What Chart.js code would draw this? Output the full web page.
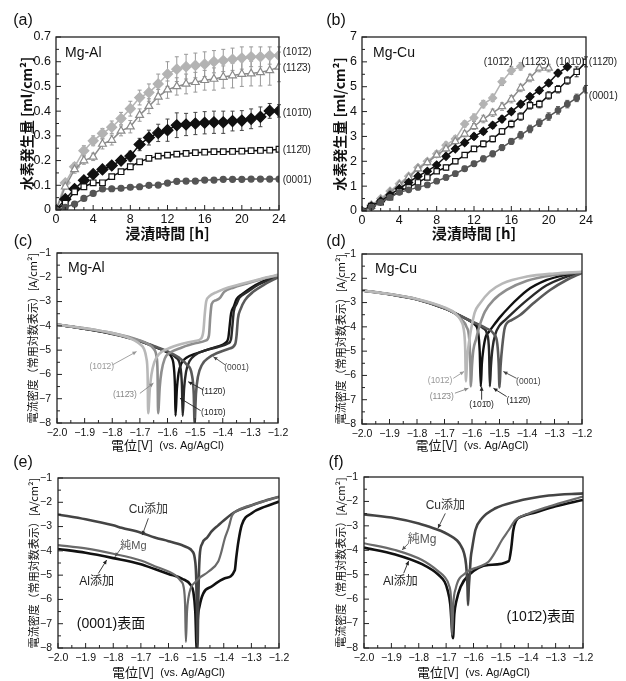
<!DOCTYPE html>
<html>
<head>
<meta charset="utf-8">
<script src="https://cdn.jsdelivr.net/npm/chart.js@4.4.0/dist/chart.umd.min.js"></script>
<style>
body { margin: 0; background: #fff; }
#wrap { position: relative; width: 626px; height: 681px; overflow: hidden; }
#wrap canvas { position: absolute; }
</style>
</head>
<body>
<div id="wrap">
  <canvas id="ca" width="330" height="246" style="left:0;top:0"></canvas>
  <canvas id="cb" width="313" height="246" style="left:313px;top:0"></canvas>
  <canvas id="cc" width="313" height="230" style="left:0;top:225px"></canvas>
  <canvas id="cd" width="313" height="230" style="left:313px;top:225px"></canvas>
  <canvas id="ce" width="313" height="231" style="left:0;top:450px"></canvas>
  <canvas id="cf" width="313" height="231" style="left:313px;top:450px"></canvas>
</div>
<script>
// 浸漬時間 [h]
var hours = [0,1,2,3,4,5,6,7,8,9,10,11,12,13,14,15,16,17,18,19,20,21,22,23,24];

// (a) Mg-Al 水素発生量 [ml/cm2]
var al1012 = [0,0.11,0.175,0.24,0.28,0.31,0.335,0.37,0.41,0.455,0.475,0.51,0.55,0.57,0.58,0.585,0.59,0.6,0.605,0.61,0.615,0.62,0.62,0.625,0.625];
var al1123 = [0,0.094,0.164,0.2,0.215,0.267,0.283,0.32,0.337,0.384,0.42,0.458,0.487,0.5,0.51,0.517,0.525,0.53,0.538,0.544,0.55,0.552,0.557,0.565,0.579];
var al1010 = [0,0.044,0.085,0.12,0.145,0.164,0.18,0.2,0.218,0.265,0.293,0.312,0.323,0.343,0.346,0.35,0.353,0.355,0.355,0.36,0.362,0.369,0.377,0.401,0.401];
var al1120 = [0,0.027,0.074,0.094,0.11,0.11,0.135,0.155,0.175,0.195,0.209,0.218,0.222,0.226,0.229,0.232,0.234,0.236,0.236,0.237,0.238,0.24,0.241,0.242,0.246];
var al0001 = [0,0.011,0.024,0.047,0.067,0.085,0.086,0.088,0.092,0.094,0.1,0.101,0.109,0.116,0.117,0.117,0.121,0.121,0.124,0.124,0.124,0.125,0.125,0.125,0.125];
var alErr1012 = [0,0.01,0.015,0.02,0.02,0.02,0.025,0.025,0.03,0.03,0.035,0.04,0.05,0.05,0.05,0.05,0.05,0.045,0.045,0.045,0.045,0.04,0.04,0.035,0.035];
var alErr1123 = [0,0.01,0.015,0.015,0.015,0.02,0.02,0.02,0.025,0.025,0.03,0.03,0.035,0.035,0.04,0.04,0.04,0.045,0.045,0.05,0.05,0.05,0.055,0.06,0.06];
var alErr1010 = [0,0.01,0.01,0.01,0.01,0.01,0.015,0.015,0.02,0.025,0.03,0.035,0.045,0.05,0.045,0.045,0.045,0.045,0.045,0.04,0.04,0.04,0.04,0.03,0.025];

// (b) Mg-Cu 水素発生量 [ml/cm2]
var cu1012 = [0,0.25,0.5,0.8,1.1,1.4,1.75,2.0,2.3,2.65,2.9,3.5,3.75,4.3,4.55,5.2,5.65,5.82];
var cu1123 = [0,0.2,0.45,0.75,1.05,1.35,1.7,1.95,2.25,2.5,2.8,3.1,3.4,3.7,3.95,4.2,4.5,4.95,5.35,5.75,5.75];
var cu1010 = [0,0.2,0.4,0.65,0.9,1.15,1.4,1.6,1.85,2.2,2.5,2.75,3.0,3.2,3.45,3.7,4.0,4.3,4.6,4.85,5.15,5.55,5.8];
var cu1120 = [0,0.2,0.35,0.55,0.8,0.95,1.15,1.35,1.6,1.75,2.0,2.25,2.5,2.7,2.9,3.2,3.5,3.8,4.25,4.3,4.65,4.9,5.25,5.6,6.0];
var cu0001 = [0,0.15,0.35,0.55,0.75,0.85,0.95,1.05,1.2,1.35,1.5,1.7,1.9,2.1,2.3,2.55,2.8,3.05,3.3,3.55,3.8,4.05,4.3,4.55,4.9];
var cuErr1012 = [0,0.05,0.05,0.05,0.08,0.08,0.1,0.1,0.12,0.12,0.12,0.12,0.15,0.15,0.15,0.15,0.15,0.15];
var cuErr1123 = [0,0.05,0.05,0.05,0.08,0.08,0.1,0.1,0.1,0.12,0.12,0.12,0.12,0.15,0.15,0.15,0.15,0.15,0.15,0.15,0.15];
var cuErr1010 = [0,0.05,0.05,0.05,0.05,0.08,0.08,0.08,0.1,0.1,0.1,0.1,0.12,0.12,0.12,0.12,0.12,0.12,0.12,0.12,0.12,0.12,0.1];
var cuErr1120 = [0,0.05,0.05,0.05,0.05,0.05,0.08,0.08,0.08,0.1,0.1,0.1,0.1,0.12,0.12,0.12,0.15,0.15,0.15,0.15,0.15,0.15,0.15,0.2,0.2];
var cuErr0001 = [0,0.05,0.05,0.05,0.05,0.05,0.08,0.08,0.08,0.1,0.1,0.1,0.1,0.12,0.12,0.12,0.12,0.15,0.15,0.15,0.15,0.15,0.15,0.15,0.15];

// (c) Mg-Al 分極曲線 [電位 V, log 電流密度]
var pAl1012 = [[-2.0,-3.95],[-1.9,-4.1],[-1.8,-4.3],[-1.75,-4.45],[-1.72,-4.6],[-1.70,-4.75],[-1.685,-4.95],[-1.677,-5.3],[-1.672,-6.0],[-1.670,-7.6],[-1.664,-6.6],[-1.658,-6.0],[-1.648,-5.5],[-1.63,-5.15],[-1.6,-4.95],[-1.55,-4.75],[-1.5,-4.62],[-1.478,-4.52],[-1.47,-4.2],[-1.465,-3.5],[-1.46,-3.0],[-1.45,-2.8],[-1.42,-2.6],[-1.38,-2.42],[-1.33,-2.27],[-1.28,-2.12],[-1.24,-2.0],[-1.2,-1.9]];
var pAl1123 = [[-2.0,-3.95],[-1.9,-4.1],[-1.8,-4.3],[-1.7,-4.6],[-1.67,-4.75],[-1.65,-4.95],[-1.64,-5.25],[-1.636,-5.9],[-1.634,-7.6],[-1.628,-6.5],[-1.622,-5.9],[-1.61,-5.35],[-1.59,-5.1],[-1.55,-4.9],[-1.5,-4.72],[-1.46,-4.6],[-1.45,-4.4],[-1.445,-3.6],[-1.44,-3.1],[-1.425,-2.95],[-1.41,-2.85],[-1.395,-2.6],[-1.36,-2.42],[-1.32,-2.28],[-1.26,-2.08],[-1.2,-1.92]];
var pAl1010 = [[-2.0,-3.95],[-1.9,-4.12],[-1.8,-4.32],[-1.7,-4.62],[-1.65,-4.85],[-1.6,-5.1],[-1.585,-5.3],[-1.577,-5.7],[-1.573,-6.5],[-1.571,-7.7],[-1.566,-6.6],[-1.56,-5.95],[-1.55,-5.55],[-1.53,-5.3],[-1.5,-5.15],[-1.46,-5.0],[-1.42,-4.85],[-1.39,-4.7],[-1.38,-4.5],[-1.375,-4.0],[-1.37,-3.5],[-1.36,-3.2],[-1.35,-2.9],[-1.33,-2.7],[-1.3,-2.45],[-1.26,-2.2],[-1.2,-1.95]];
var pAl1120 = [[-2.0,-3.95],[-1.9,-4.12],[-1.8,-4.33],[-1.7,-4.63],[-1.65,-4.85],[-1.6,-5.08],[-1.57,-5.3],[-1.555,-5.6],[-1.548,-6.4],[-1.545,-7.7],[-1.54,-6.6],[-1.533,-5.9],[-1.52,-5.45],[-1.5,-5.2],[-1.46,-5.0],[-1.42,-4.88],[-1.38,-4.72],[-1.37,-4.55],[-1.365,-4.0],[-1.36,-3.4],[-1.35,-3.1],[-1.34,-2.85],[-1.31,-2.6],[-1.27,-2.3],[-1.23,-2.1],[-1.2,-1.97]];
var pAl0001 = [[-2.0,-3.95],[-1.9,-4.12],[-1.8,-4.33],[-1.7,-4.62],[-1.65,-4.83],[-1.6,-5.05],[-1.56,-5.3],[-1.53,-5.6],[-1.512,-6.0],[-1.505,-6.8],[-1.502,-8.0],[-1.497,-6.8],[-1.49,-6.1],[-1.475,-5.6],[-1.45,-5.3],[-1.42,-5.12],[-1.38,-4.95],[-1.355,-4.75],[-1.35,-4.4],[-1.345,-3.7],[-1.335,-3.3],[-1.32,-2.95],[-1.29,-2.6],[-1.25,-2.3],[-1.2,-2.0]];

// (d) Mg-Cu 分極曲線
var pCu1012 = [[-2.0,-2.5],[-1.9,-2.65],[-1.8,-2.85],[-1.7,-3.2],[-1.66,-3.45],[-1.64,-3.75],[-1.63,-4.1],[-1.625,-4.8],[-1.622,-6.25],[-1.618,-5.4],[-1.615,-5.0],[-1.605,-4.2],[-1.6,-3.9],[-1.59,-3.4],[-1.572,-3.05],[-1.535,-2.55],[-1.49,-2.22],[-1.4,-1.93],[-1.3,-1.8],[-1.2,-1.73]];
var pCu1123 = [[-2.0,-2.5],[-1.9,-2.65],[-1.8,-2.86],[-1.7,-3.22],[-1.66,-3.47],[-1.64,-3.68],[-1.62,-4.0],[-1.61,-4.5],[-1.606,-5.5],[-1.604,-6.45],[-1.6,-5.6],[-1.595,-4.95],[-1.585,-4.5],[-1.577,-4.13],[-1.565,-3.7],[-1.553,-3.37],[-1.522,-2.9],[-1.474,-2.48],[-1.4,-2.1],[-1.3,-1.86],[-1.2,-1.74]];
var pCu1010 = [[-2.0,-2.5],[-1.9,-2.66],[-1.8,-2.87],[-1.7,-3.24],[-1.65,-3.5],[-1.62,-3.68],[-1.59,-3.9],[-1.578,-4.2],[-1.572,-5.0],[-1.568,-6.45],[-1.564,-5.5],[-1.559,-4.95],[-1.55,-4.4],[-1.538,-4.2],[-1.522,-3.95],[-1.498,-3.6],[-1.462,-3.15],[-1.43,-2.8],[-1.4,-2.5],[-1.33,-2.08],[-1.26,-1.86],[-1.2,-1.75]];
var pCu1120 = [[-2.0,-2.5],[-1.9,-2.66],[-1.8,-2.87],[-1.7,-3.24],[-1.65,-3.5],[-1.6,-3.8],[-1.56,-4.05],[-1.545,-4.3],[-1.538,-5.0],[-1.535,-6.45],[-1.531,-5.6],[-1.525,-4.85],[-1.515,-4.3],[-1.5,-3.95],[-1.478,-3.7],[-1.45,-3.4],[-1.4,-2.9],[-1.33,-2.3],[-1.26,-1.95],[-1.2,-1.77]];
var pCu0001 = [[-2.0,-2.5],[-1.9,-2.66],[-1.8,-2.87],[-1.7,-3.24],[-1.65,-3.5],[-1.6,-3.78],[-1.55,-4.05],[-1.52,-4.3],[-1.508,-4.7],[-1.503,-5.5],[-1.5,-6.5],[-1.496,-5.6],[-1.49,-4.8],[-1.48,-4.0],[-1.456,-3.72],[-1.425,-3.51],[-1.377,-3.03],[-1.316,-2.48],[-1.256,-2.07],[-1.2,-1.77]];

// (e) (0001)表面
var eCu = [[-2.0,-2.5],[-1.9,-2.7],[-1.8,-2.95],[-1.77,-3.05],[-1.7,-3.25],[-1.65,-3.45],[-1.6,-3.6],[-1.55,-3.77],[-1.53,-3.87],[-1.515,-4.0],[-1.505,-4.3],[-1.5,-5.0],[-1.497,-6.5],[-1.495,-8.0],[-1.492,-6.0],[-1.49,-5.0],[-1.487,-4.2],[-1.478,-3.7],[-1.46,-3.45],[-1.444,-3.2],[-1.42,-2.95],[-1.4,-2.75],[-1.36,-2.4],[-1.31,-2.17],[-1.26,-1.97],[-1.2,-1.77]];
var ePure = [[-2.0,-3.76],[-1.9,-3.9],[-1.8,-4.12],[-1.7,-4.4],[-1.65,-4.63],[-1.6,-4.85],[-1.576,-5.0],[-1.555,-5.25],[-1.545,-5.5],[-1.54,-6.2],[-1.537,-7.75],[-1.533,-6.5],[-1.528,-5.95],[-1.52,-5.55],[-1.5,-5.25],[-1.49,-5.13],[-1.456,-4.86],[-1.42,-4.44],[-1.41,-4.1],[-1.396,-3.48],[-1.383,-3.07],[-1.37,-2.55],[-1.347,-2.32],[-1.287,-2.08],[-1.2,-1.77]];
var eAl = [[-2.0,-3.92],[-1.9,-4.08],[-1.8,-4.3],[-1.7,-4.55],[-1.65,-4.75],[-1.6,-4.95],[-1.55,-5.15],[-1.52,-5.4],[-1.51,-5.7],[-1.503,-6.5],[-1.498,-8.0],[-1.494,-6.8],[-1.488,-6.3],[-1.474,-5.75],[-1.444,-5.47],[-1.396,-5.13],[-1.36,-4.8],[-1.355,-4.3],[-1.347,-3.62],[-1.335,-2.94],[-1.299,-2.45],[-1.25,-2.18],[-1.2,-1.97]];

// (f) (10-12)表面
var fCu = [[-2.0,-2.53],[-1.886,-2.69],[-1.8,-2.9],[-1.764,-3.03],[-1.72,-3.2],[-1.69,-3.37],[-1.66,-3.6],[-1.648,-3.78],[-1.635,-4.1],[-1.627,-4.6],[-1.622,-5.5],[-1.62,-6.24],[-1.617,-5.5],[-1.614,-5.0],[-1.61,-4.3],[-1.605,-3.92],[-1.593,-3.17],[-1.569,-2.69],[-1.52,-2.28],[-1.447,-2.01],[-1.325,-1.76],[-1.2,-1.67]];
var fPure = [[-2.0,-3.71],[-1.886,-3.99],[-1.788,-4.4],[-1.727,-4.87],[-1.705,-5.1],[-1.69,-5.42],[-1.682,-6.0],[-1.678,-7.47],[-1.674,-6.24],[-1.665,-5.56],[-1.63,-4.94],[-1.58,-4.67],[-1.545,-4.47],[-1.52,-4.06],[-1.496,-3.58],[-1.471,-3.17],[-1.447,-2.76],[-1.398,-2.49],[-1.325,-2.21],[-1.2,-1.8]];
var fAl = [[-2.0,-3.89],[-1.886,-4.17],[-1.788,-4.57],[-1.727,-5.01],[-1.705,-5.3],[-1.695,-5.62],[-1.685,-6.2],[-1.675,-7.6],[-1.67,-6.6],[-1.663,-6.1],[-1.647,-5.49],[-1.617,-5.01],[-1.545,-4.6],[-1.471,-4.44],[-1.462,-3.9],[-1.455,-3.2],[-1.445,-2.8],[-1.42,-2.6],[-1.374,-2.45],[-1.3,-2.2],[-1.2,-1.94]];

var OL = '\u0304';
var L1012 = '(101' + OL + '2)', L1123 = '(112' + OL + '3)', L1010 = '(101' + OL + '0)', L1120 = '(112' + OL + '0)', L0001 = '(0001)';

var CJK = "'Noto Sans CJK JP'";
var SANS = "'Liberation Sans', " + CJK;
var YTITLE_POL = '電流密度（常用対数表示）[A/cm²]';

function xy(xs, ys) {
    return ys.map(function(v, i) { return { x: xs[i], y: v }; });
}
function pairs(arr) {
    return arr.map(function(p) { return { x: p[0], y: p[1] }; });
}
function minus(v, d) {
    var s = d ? Math.abs(v).toFixed(d) : String(Math.abs(v));
    return (v < -1e-9 ? '\u2212' : '') + s;
}

// 各パネルの装飾設定（タイトル、注記、矢印）
var decoCfg = {};

function drawArrow(ctx, x1, y1, x2, y2) {
    ctx.beginPath(); ctx.moveTo(x1, y1); ctx.lineTo(x2, y2); ctx.stroke();
    var ang = Math.atan2(y2 - y1, x2 - x1), h = 4.5;
    ctx.beginPath();
    ctx.moveTo(x2, y2);
    ctx.lineTo(x2 - h * Math.cos(ang - 0.45), y2 - h * Math.sin(ang - 0.45));
    ctx.lineTo(x2 - h * Math.cos(ang + 0.45), y2 - h * Math.sin(ang + 0.45));
    ctx.closePath(); ctx.fill();
}

var deco = {
    id: 'deco',
    beforeDatasetsDraw: function(chart) {
        var ctx = chart.ctx, xs = chart.scales.x, ys = chart.scales.y;
        chart.data.datasets.forEach(function(ds) {
            if (!ds.errors) return;
            ctx.save();
            ctx.strokeStyle = ds.errColor || ds.borderColor;
            ctx.lineWidth = 1;
            ds.data.forEach(function(p, j) {
                var e = ds.errors[j];
                if (!e) return;
                var px = xs.getPixelForValue(p.x);
                var y1 = ys.getPixelForValue(p.y - e), y2 = ys.getPixelForValue(p.y + e);
                ctx.beginPath();
                ctx.moveTo(px, y1); ctx.lineTo(px, y2);
                ctx.moveTo(px - 2, y1); ctx.lineTo(px + 2, y1);
                ctx.moveTo(px - 2, y2); ctx.lineTo(px + 2, y2);
                ctx.stroke();
            });
            ctx.restore();
        });
    },
    afterDraw: function(chart) {
        var o = decoCfg[chart.canvas.id];
        var ctx = chart.ctx, a = chart.chartArea, xs = chart.scales.x, ys = chart.scales.y;
        ctx.save();
        // 枠
        ctx.strokeStyle = '#222';
        ctx.lineWidth = 1.3;
        ctx.strokeRect(a.left, a.top, a.right - a.left, a.bottom - a.top);
        // 内向き目盛り
        ctx.lineWidth = 1;
        var xt = xs.ticks.map(function(t) { return t.value; });
        var yt = ys.ticks.map(function(t) { return t.value; });
        ctx.beginPath();
        xt.forEach(function(v, i) {
            var px = xs.getPixelForValue(v);
            ctx.moveTo(px, a.bottom); ctx.lineTo(px, a.bottom - 5);
            if (i < xt.length - 1) {
                for (var k = 1; k < o.minorX; k++) {
                    var mx = xs.getPixelForValue(v + (xt[i + 1] - v) * k / o.minorX);
                    ctx.moveTo(mx, a.bottom); ctx.lineTo(mx, a.bottom - 3);
                }
            }
        });
        yt.forEach(function(v, i) {
            var py = ys.getPixelForValue(v);
            ctx.moveTo(a.left, py); ctx.lineTo(a.left + 5, py);
            if (i < yt.length - 1) {
                for (var k = 1; k < o.minorY; k++) {
                    var my = ys.getPixelForValue(v + (yt[i + 1] - v) * k / o.minorY);
                    ctx.moveTo(a.left, my); ctx.lineTo(a.left + 3, my);
                }
            }
        });
        ctx.stroke();

        ctx.fillStyle = '#111';
        ctx.textBaseline = 'middle';
        // パネル記号
        ctx.font = '16px ' + SANS;
        ctx.textAlign = 'center';
        ctx.fillText(o.panel[0], o.panel[1], o.panel[2]);
        // 軸タイトル
        var cx = (a.left + a.right) / 2;
        if (o.xTitle2) {
            ctx.font = o.xFont;
            var w1 = ctx.measureText(o.xTitle).width;
            ctx.font = o.xFont2;
            var w2 = ctx.measureText(o.xTitle2).width;
            var sx = cx - (w1 + w2 + 6) / 2;
            ctx.textAlign = 'left';
            ctx.font = o.xFont;
            ctx.fillText(o.xTitle, sx, o.xTitleY);
            ctx.font = o.xFont2;
            ctx.fillText(o.xTitle2, sx + w1 + 6, o.xTitleY + 0.5);
        } else {
            ctx.font = o.xFont;
            ctx.fillText(o.xTitle, cx, o.xTitleY);
        }
        ctx.save();
        ctx.translate(o.yTitleX, (a.top + a.bottom) / 2);
        ctx.rotate(-Math.PI / 2);
        ctx.textAlign = 'center';
        ctx.font = o.yFont;
        ctx.fillText(o.yTitle, 0, 0);
        ctx.restore();
        // 合金名
        if (o.alloy) {
            ctx.textAlign = 'left';
            ctx.font = '14px ' + SANS;
            ctx.fillText(o.alloy, a.left + o.alloyDx, a.top + o.alloyDy);
        }
        // 矢印
        (o.arrows || []).forEach(function(r) {
            ctx.strokeStyle = r[4]; ctx.fillStyle = r[4]; ctx.lineWidth = 0.9;
            drawArrow(ctx, xs.getPixelForValue(r[0]), ys.getPixelForValue(r[1]),
                xs.getPixelForValue(r[2]), ys.getPixelForValue(r[3]));
        });
        // 注記
        (o.notes || []).forEach(function(n) {
            ctx.fillStyle = n.c || '#222';
            ctx.font = n.f;
            ctx.textAlign = n.a || 'center';
            ctx.fillText(n.t, xs.getPixelForValue(n.x), ys.getPixelForValue(n.y));
        });
        ctx.restore();
    }
};

function makeChart(id, box, scaleX, scaleY, datasets, tickFont) {
    return new Chart(document.getElementById(id), {
        type: 'line',
        data: { datasets: datasets },
        options: {
            responsive: false,
            animation: false,
            events: [],
            layout: { padding: { left: 0, top: box.top, right: box.right, bottom: 0 } },
            plugins: { legend: { display: false }, tooltip: { enabled: false } },
            scales: {
                x: {
                    type: 'linear', min: scaleX.min, max: scaleX.max,
                    grid: { display: false, drawTicks: false }, border: { display: false },
                    ticks: { stepSize: scaleX.step, autoSkip: false, maxRotation: 0, padding: box.xPad,
                        color: '#111', font: tickFont, callback: scaleX.fmt },
                    afterFit: function(s) { s.height = box.xh; }
                },
                y: {
                    type: 'linear', min: scaleY.min, max: scaleY.max,
                    grid: { display: false, drawTicks: false }, border: { display: false },
                    ticks: { stepSize: scaleY.step, autoSkip: false, padding: box.yPad,
                        color: '#111', font: tickFont, callback: scaleY.fmt },
                    afterFit: function(s) { s.width = box.yw; }
                }
            }
        },
        plugins: [deco]
    });
}

function hSeries(vals, style) {
    var d = {
        data: xy(hours, vals),
        borderColor: style.c, backgroundColor: style.fill || style.c,
        borderWidth: style.w || 1.5, pointStyle: style.p, pointRadius: style.r,
        pointBorderColor: style.c, pointBackgroundColor: style.fill || style.c,
        pointBorderWidth: 1.2, tension: 0
    };
    if (style.err) { d.errors = style.err; d.errColor = style.ec; }
    return d;
}
function pSeries(arr, color, w) {
    return {
        data: pairs(arr), borderColor: color, borderWidth: w, pointRadius: 0,
        cubicInterpolationMode: 'monotone', fill: false
    };
}

var hx = { min: 0, max: 24, step: 4, fmt: function(v) { return String(v); } };
var potX = { min: -2.0, max: -1.2, step: 0.1, fmt: function(v) { return minus(v, 1); } };
var potY = { min: -8, max: -1, step: 1, fmt: function(v) { return minus(v, 0); } };
var potTick = { family: 'Liberation Sans', size: 10.5 };
var hTick = { family: 'Liberation Sans', size: 12.5 };

var lab10 = '10px ' + SANS;
var lab8 = '8.5px ' + SANS;

// (a)
decoCfg.ca = {
    panel: ['(a)', 23, 21], minorX: 4, minorY: 2,
    xTitle: '浸漬時間 [h]', xFont: 'bold 15px ' + CJK, xTitleY: 233,
    yTitle: '水素発生量 [ml/cm²]', yFont: 'bold 14px ' + CJK, yTitleX: 27,
    alloy: 'Mg-Al', alloyDx: 9, alloyDy: 16,
    notes: [
        { t: L1012, x: 24.4, y: 0.64, f: lab10, a: 'left' },
        { t: L1123, x: 24.4, y: 0.575, f: lab10, a: 'left' },
        { t: L1010, x: 24.4, y: 0.39, f: lab10, a: 'left' },
        { t: L1120, x: 24.4, y: 0.24, f: lab10, a: 'left' },
        { t: L0001, x: 24.4, y: 0.12, f: lab10, a: 'left' }
    ]
};
makeChart('ca', { top: 37, right: 51, xh: 36, yw: 56, xPad: 2, yPad: 5 }, hx,
    { min: 0, max: 0.7, step: 0.1, fmt: function(v) { return v === 0 ? '0' : v.toFixed(1); } }, [
    hSeries(al0001, { c: '#555', p: 'circle', r: 3 }),
    hSeries(al1120, { c: '#111', fill: '#fff', p: 'rect', r: 4 }),
    hSeries(al1010, { c: '#111', p: 'rectRot', r: 5.5, err: alErr1010, ec: '#444' }),
    hSeries(al1123, { c: '#8a8a8a', fill: '#fff', p: 'triangle', r: 4.5, err: alErr1123, ec: '#999' }),
    hSeries(al1012, { c: '#b3b3b3', p: 'rectRot', r: 5, err: alErr1012, ec: '#999' })
], hTick);

// (b)
decoCfg.cb = {
    panel: ['(b)', 23, 21], minorX: 4, minorY: 2,
    xTitle: '浸漬時間 [h]', xFont: 'bold 15px ' + CJK, xTitleY: 233,
    yTitle: '水素発生量 [ml/cm²]', yFont: 'bold 14px ' + CJK, yTitleX: 27,
    alloy: 'Mg-Cu', alloyDx: 11, alloyDy: 16,
    notes: [
        { t: L1012, x: 14.6, y: 5.97, f: lab10 },
        { t: L1123, x: 18.6, y: 5.97, f: lab10 },
        { t: L1010, x: 22.3, y: 5.97, f: lab10 },
        { t: L1120, x: 24.3, y: 6.0, f: lab10, a: 'left' },
        { t: L0001, x: 24.3, y: 4.6, f: lab10, a: 'left' }
    ]
};
makeChart('cb', { top: 37, right: 40, xh: 35, yw: 49, xPad: 2, yPad: 5 }, hx,
    { min: 0, max: 7, step: 1, fmt: function(v) { return String(v); } }, [
    hSeries(cu0001, { c: '#555', p: 'circle', r: 2.8, err: cuErr0001, ec: '#555' }),
    hSeries(cu1120, { c: '#111', fill: '#fff', p: 'rect', r: 3.8, err: cuErr1120, ec: '#333' }),
    hSeries(cu1010, { c: '#111', p: 'rectRot', r: 4, err: cuErr1010, ec: '#333' }),
    hSeries(cu1123, { c: '#8a8a8a', fill: '#fff', p: 'triangle', r: 4.2, err: cuErr1123, ec: '#999' }),
    hSeries(cu1012, { c: '#b3b3b3', p: 'rectRot', r: 4, err: cuErr1012, ec: '#999' })
], hTick);

var potXTitle = '電位[V]', potXTitle2 = '(vs. Ag/AgCl)';
var polCommon = function(panel, py) {
    return {
        panel: panel, minorX: 2, minorY: 2,
        xTitle: potXTitle, xTitle2: potXTitle2, xFont: '13px ' + CJK, xFont2: '11px ' + SANS, xTitleY: py,
        yTitle: YTITLE_POL, yFont: '11px ' + CJK
    };
};

// (c)
decoCfg.cc = Object.assign(polCommon(['(c)', 23, 17], 220), {
    yTitleX: 33, alloy: 'Mg-Al', alloyDx: 11, alloyDy: 15,
    notes: [
        { t: L1012, x: -1.838, y: -5.7, c: '#999', f: lab8 },
        { t: L1123, x: -1.754, y: -6.84, c: '#888', f: lab8 },
        { t: L0001, x: -1.35, y: -5.72, c: '#444', f: lab8 },
        { t: L1120, x: -1.434, y: -6.7, c: '#222', f: lab8 },
        { t: L1010, x: -1.434, y: -7.56, c: '#222', f: lab8 }
    ],
    arrows: [
        [-1.80, -5.61, -1.712, -5.06, '#999'],
        [-1.70, -6.78, -1.651, -6.36, '#888'],
        [-1.392, -5.6, -1.434, -5.27, '#444'],
        [-1.47, -6.64, -1.525, -6.3, '#222'],
        [-1.48, -7.49, -1.555, -6.98, '#222']
    ]
});
makeChart('cc', { top: 28, right: 35, xh: 32, yw: 57, xPad: 4, yPad: 6 }, potX, potY, [
    pSeries(pAl1012, '#b8b8b8', 2.6),
    pSeries(pAl1123, '#8e8e8e', 2.6),
    pSeries(pAl0001, '#5a5a5a', 2.6),
    pSeries(pAl1120, '#2a2a2a', 2.4),
    pSeries(pAl1010, '#111', 2.4)
], potTick);

// (d)
decoCfg.cd = Object.assign(polCommon(['(d)', 23, 17], 220), {
    yTitleX: 28, alloy: 'Mg-Cu', alloyDx: 13, alloyDy: 15,
    notes: [
        { t: L1012, x: -1.716, y: -6.21, c: '#999', f: lab8 },
        { t: L1123, x: -1.71, y: -6.87, c: '#888', f: lab8 },
        { t: L1010, x: -1.565, y: -7.21, c: '#222', f: lab8 },
        { t: L1120, x: -1.431, y: -7.04, c: '#222', f: lab8 },
        { t: L0001, x: -1.395, y: -6.25, c: '#444', f: lab8 }
    ],
    arrows: [
        [-1.668, -6.12, -1.629, -5.84, '#999'],
        [-1.662, -6.73, -1.613, -6.53, '#888'],
        [-1.565, -7.0, -1.565, -6.46, '#222'],
        [-1.474, -6.87, -1.522, -6.53, '#222'],
        [-1.438, -6.12, -1.486, -5.84, '#444']
    ]
});
makeChart('cd', { top: 29, right: 44, xh: 31, yw: 49, xPad: 4, yPad: 6 }, potX, potY, [
    pSeries(pCu1012, '#b8b8b8', 2.6),
    pSeries(pCu1123, '#8e8e8e', 2.6),
    pSeries(pCu0001, '#5a5a5a', 2.6),
    pSeries(pCu1120, '#2a2a2a', 2.4),
    pSeries(pCu1010, '#111', 2.4)
], potTick);

// (e)
decoCfg.ce = Object.assign(polCommon(['(e)', 23, 13], 222), {
    yTitleX: 34,
    notes: [
        { t: 'Cu添加', x: -1.673, y: -2.32, c: '#333', f: '12px ' + SANS },
        { t: '純Mg', x: -1.727, y: -3.79, c: '#555', f: '11px ' + SANS },
        { t: 'Al添加', x: -1.86, y: -5.27, c: '#222', f: '12px ' + SANS },
        { t: '(0001)表面', x: -1.932, y: -7.02, c: '#111', f: '14px ' + SANS, a: 'left' }
    ],
    arrows: [
        [-1.673, -2.66, -1.695, -3.35, '#333'],
        [-1.77, -3.87, -1.794, -4.24, '#555'],
        [-1.854, -4.93, -1.824, -4.38, '#222']
    ]
});
makeChart('ce', { top: 28, right: 34, xh: 33, yw: 58, xPad: 4, yPad: 6 }, potX, potY, [
    pSeries(ePure, '#6a6a6a', 2.2),
    pSeries(eCu, '#444', 2.6),
    pSeries(eAl, '#111', 2.6)
], potTick);

// (f)
decoCfg.cf = Object.assign(polCommon(['(f)', 23, 13], 222), {
    yTitleX: 28,
    notes: [
        { t: 'Cu添加', x: -1.703, y: -2.17, c: '#333', f: '12px ' + SANS },
        { t: '純Mg', x: -1.788, y: -3.58, c: '#555', f: '12px ' + SANS },
        { t: 'Al添加', x: -1.867, y: -5.28, c: '#222', f: '12px ' + SANS },
        { t: L1012 + '表面', x: -1.229, y: -6.75, c: '#111', f: '14px ' + SANS, a: 'right' }
    ],
    arrows: [
        [-1.703, -2.49, -1.73, -3.1, '#333'],
        [-1.837, -3.71, -1.861, -3.99, '#555'],
        [-1.855, -4.94, -1.837, -4.44, '#222']
    ]
});
makeChart('cf', { top: 27, right: 43, xh: 33, yw: 51, xPad: 4, yPad: 6 }, potX, potY, [
    pSeries(fPure, '#6a6a6a', 2.2),
    pSeries(fCu, '#444', 2.6),
    pSeries(fAl, '#111', 2.6)
], potTick);
</script>
</body>
</html>
